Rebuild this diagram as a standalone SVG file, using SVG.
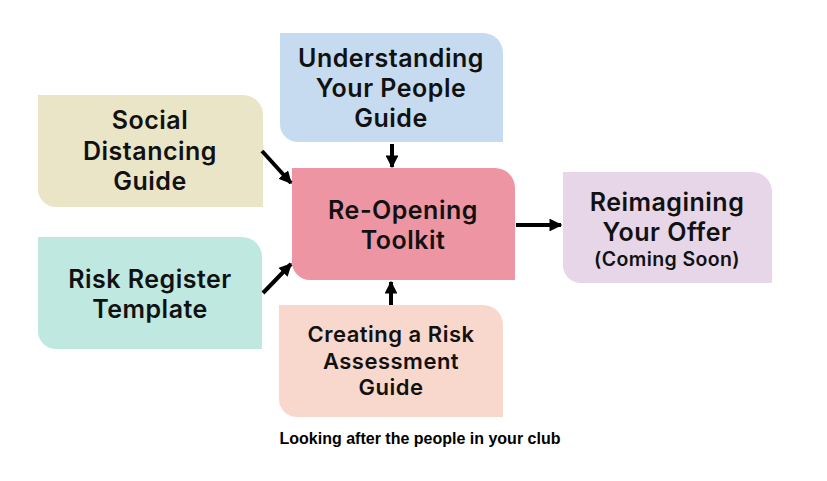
<svg xmlns="http://www.w3.org/2000/svg" width="827" height="481" viewBox="0 0 827 481">
<style>
.t{font-family:Inter,"Noto Sans",sans-serif;font-weight:600;font-size:25px;letter-spacing:0.5px;fill:#111;text-anchor:middle}
.s{font-size:19.5px;letter-spacing:0.4px}
.m{font-size:22px}
.cap{font-family:"Liberation Sans",Arial,sans-serif;font-weight:bold;font-size:16px;fill:#000;text-anchor:middle}
.c line{stroke:#000;stroke-width:4}
</style>
<defs>
<marker id="ah" viewBox="0 0 10 10" refX="9" refY="5" markerWidth="3.2" markerHeight="3.2" orient="auto" markerUnits="strokeWidth">
<path d="M0,0 L10,5 L0,10 z" fill="#000"/>
</marker>
</defs>
<rect width="827" height="481" fill="#fff"/>
<g id="understanding">
<path d="M280,33 H483 A20,20 0 0 1 503,53 V142 H298 A18,18 0 0 1 280,124 Z" fill="#c6dbef"/>
<text class="t" x="391" y="67">Understanding</text>
<text class="t" x="391" y="97">Your People</text>
<text class="t" x="391" y="127">Guide</text>
</g>
<g id="social">
<path d="M38,95 H243 A20,20 0 0 1 263,115 V207 H56 A18,18 0 0 1 38,189 Z" fill="#e9e5c6"/>
<text class="t" x="150" y="129">Social</text>
<text class="t" x="150" y="160">Distancing</text>
<text class="t" x="150" y="190">Guide</text>
</g>
<g id="reopening">
<path d="M292,168 H495 A20,20 0 0 1 515,188 V280 H310 A18,18 0 0 1 292,262 Z" fill="#ee95a3"/>
<text class="t" x="403" y="219">Re-Opening</text>
<text class="t" x="403" y="249">Toolkit</text>
</g>
<g id="reimagining">
<path d="M563,172 H752 A20,20 0 0 1 772,192 V283 H581 A18,18 0 0 1 563,265 Z" fill="#e6d6e8"/>
<text class="t" x="667" y="211">Reimagining</text>
<text class="t" x="667" y="241">Your Offer</text>
<text class="t s" x="667" y="266">(Coming Soon)</text>
</g>
<g id="riskregister">
<path d="M38,237 H242 A20,20 0 0 1 262,257 V349 H56 A18,18 0 0 1 38,331 Z" fill="#bfe9e0"/>
<text class="t" x="150" y="288">Risk Register</text>
<text class="t" x="150" y="318">Template</text>
</g>
<g id="creating">
<path d="M279,305 H483 A20,20 0 0 1 503,325 V417 H297 A18,18 0 0 1 279,399 Z" fill="#f8d8cc"/>
<text class="t m" x="391" y="342">Creating a Risk</text>
<text class="t m" x="391" y="369">Assessment</text>
<text class="t m" x="391" y="395">Guide</text>
</g>
<g class="c" id="connectors">
<line x1="392" y1="144" x2="392" y2="167" marker-end="url(#ah)"/>
<line x1="262" y1="151" x2="291" y2="183" marker-end="url(#ah)"/>
<line x1="263" y1="293" x2="291" y2="264" marker-end="url(#ah)"/>
<line x1="391" y1="305" x2="391" y2="282" marker-end="url(#ah)"/>
<line x1="516" y1="225" x2="561" y2="225" marker-end="url(#ah)"/>
</g>
<text class="cap" x="420" y="444">Looking after the people in your club</text>
</svg>
